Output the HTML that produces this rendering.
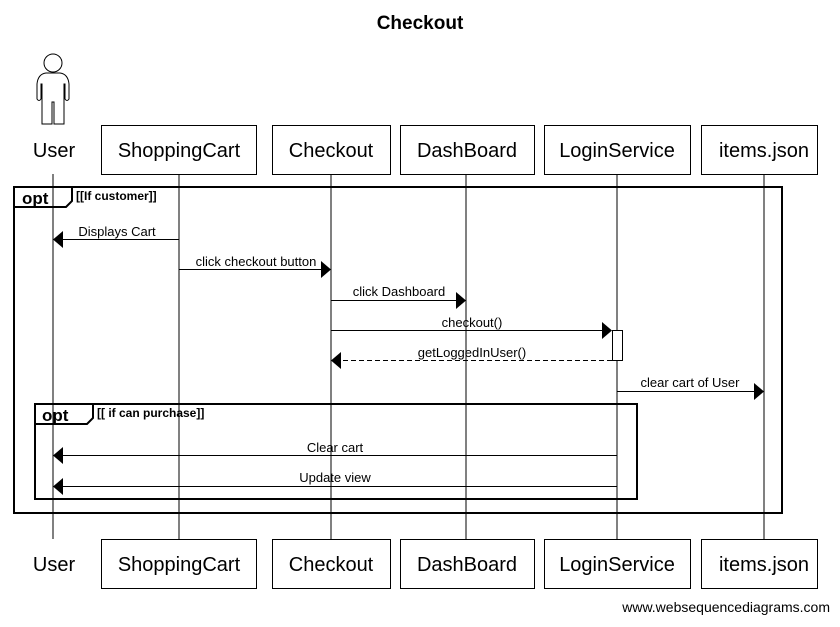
<!DOCTYPE html>
<html><head><style>body{margin:0;background:#fff}</style></head><body>
<svg width="840" height="622" xmlns="http://www.w3.org/2000/svg" font-family="Liberation Sans, sans-serif">
<rect width="840" height="622" fill="#fff"/>
<text x="420" y="29" font-size="19" font-weight="bold" text-anchor="middle">Checkout</text>
<g stroke="#000" stroke-width="1">
<line x1="53" y1="174" x2="53" y2="539"/>
<line x1="179" y1="174" x2="179" y2="539"/>
<line x1="331" y1="174" x2="331" y2="539"/>
<line x1="466" y1="174" x2="466" y2="539"/>
<line x1="617" y1="174" x2="617" y2="539"/>
<line x1="764" y1="174" x2="764" y2="539"/>
</g>
<g stroke="#000" fill="#fff" stroke-width="1">
<circle cx="53" cy="63" r="9"/>
<path d="M46,73 Q38,74 37,84 L37,99 Q39,102 41,99 L41,84 L42,84 L42,124 L52,124 L52,102 L54,102 L54,124 L64,124 L64,84 L65,84 L65,99 Q67,102 69,99 L69,84 Q68,74 60,73 Z"/>
</g>
<g font-size="20" text-anchor="middle">
<text x="54" y="157">User</text>
<text x="54" y="571">User</text>
</g>
<g stroke="#000" fill="#fff">
<rect x="101.5" y="125.5" width="155" height="49"/>
<rect x="272.5" y="125.5" width="118" height="49"/>
<rect x="400.5" y="125.5" width="134" height="49"/>
<rect x="544.5" y="125.5" width="146" height="49"/>
<rect x="701.5" y="125.5" width="116" height="49"/>
<rect x="101.5" y="539.5" width="155" height="49"/>
<rect x="272.5" y="539.5" width="118" height="49"/>
<rect x="400.5" y="539.5" width="134" height="49"/>
<rect x="544.5" y="539.5" width="146" height="49"/>
<rect x="701.5" y="539.5" width="116" height="49"/>
</g>
<g font-size="20" text-anchor="middle">
<text x="179" y="157">ShoppingCart</text><text x="331" y="157">Checkout</text><text x="467" y="157">DashBoard</text><text x="617" y="157">LoginService</text><text x="764" y="157">items.json</text>
<text x="179" y="571">ShoppingCart</text><text x="331" y="571">Checkout</text><text x="467" y="571">DashBoard</text><text x="617" y="571">LoginService</text><text x="764" y="571">items.json</text>
</g>
<g fill="none" stroke="#000" stroke-width="2">
<rect x="14" y="187" width="768" height="326"/>
<path d="M14,207 L66,207 L72,201 L72,187"/>
<rect x="35" y="404" width="602" height="95"/>
<path d="M35,424 L87,424 L93,418 L93,404"/>
</g>
<text x="22" y="204" font-size="17" font-weight="bold">opt</text>
<text x="76" y="200" font-size="12" font-weight="bold">[[If customer]]</text>
<text x="42" y="421" font-size="17" font-weight="bold">opt</text>
<text x="97" y="417" font-size="12" font-weight="bold">[[ if can purchase]]</text>
<rect x="612.5" y="330.5" width="10" height="30" fill="#fff" stroke="#000"/>
<g stroke="#000">
<line x1="179" y1="239.5" x2="62" y2="239.5"/>
<line x1="179" y1="269.5" x2="322" y2="269.5"/>
<line x1="331" y1="300.5" x2="457" y2="300.5"/>
<line x1="331" y1="330.5" x2="603" y2="330.5"/>
<line x1="612" y1="360.5" x2="340" y2="360.5" stroke-dasharray="5,3"/>
<line x1="617" y1="391.5" x2="755" y2="391.5"/>
<line x1="617" y1="455.5" x2="62" y2="455.5"/>
<line x1="617" y1="486.5" x2="62" y2="486.5"/>
</g>
<g fill="#000">
<polygon points="53,239.5 63,231 63,248"/>
<polygon points="331,269.5 321,261 321,278"/>
<polygon points="466,300.5 456,292 456,309"/>
<polygon points="612,330.5 602,322 602,339"/>
<polygon points="331,360.5 341,352 341,369"/>
<polygon points="764,391.5 754,383 754,400"/>
<polygon points="53,455.5 63,447 63,464"/>
<polygon points="53,486.5 63,478 63,495"/>
</g>
<g font-size="13" text-anchor="middle">
<text x="117" y="236">Displays Cart</text>
<text x="256" y="266">click checkout button</text>
<text x="399" y="296">click Dashboard</text>
<text x="472" y="327">checkout()</text>
<text x="472" y="357">getLoggedInUser()</text>
<text x="690" y="387">clear cart of User</text>
<text x="335" y="452">Clear cart</text>
<text x="335" y="482">Update view</text>
</g>
<text x="830" y="612" font-size="14" text-anchor="end">www.websequencediagrams.com</text>
</svg>
</body></html>
